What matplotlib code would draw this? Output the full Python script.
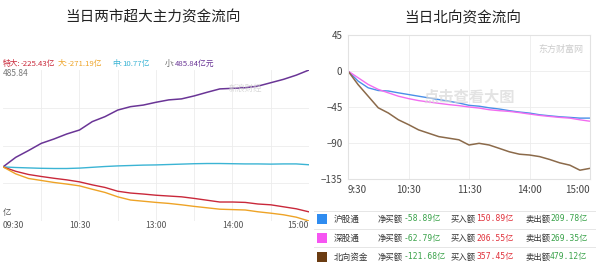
import matplotlib
matplotlib.use("Agg")
import matplotlib.pyplot as plt
from matplotlib.patches import Rectangle
from matplotlib.lines import Line2D

plt.rcParams['font.family'] = ['Noto Sans CJK SC', 'DejaVu Sans']

# ---------------- data ----------------
minutes = [0, 10, 20, 30, 40, 50, 60, 70, 80, 90, 100, 110, 120,
           130, 140, 150, 160, 170, 180, 190, 200, 210, 220, 230, 240]

# left chart: super-large / large / medium / small order flows (亿)
super_large = [0, -22, -38, -48, -57, -65, -75, -90, -103, -122, -131, -136, -142,
               -146, -150, -158, -167, -176, -176, -178, -186, -190, -200, -210, -225.43]
large = [0, -35, -58, -68, -78, -86, -95, -112, -128, -150, -166, -172, -178,
         -183, -190, -198, -205, -212, -214, -216, -225, -232, -240, -252, -271.19]
medium = [0, -3, -5, -7, -8, -8, -6, -2, 2, 5, 7, 9, 10,
          12, 14, 16, 17, 17, 16, 15, 15, 14, 15, 15, 10.77]
small = [0, 48, 82, 118, 140, 165, 185, 227, 252, 285, 302, 310, 324,
         336, 341, 356, 374, 391, 394, 397, 405, 422, 439, 460, 485.84]

left_legend = [("特大:", "-225.43亿"), ("大:", "-271.19亿"), ("中:", "10.77亿"), ("小:", "485.84亿元")]
left_xticks = [0, 60, 120, 180, 240]
left_xlabels = ["09:30", "10:30", "13:00", "14:00", "15:00"]

# right chart: northbound flows (亿)
hgt = [0, -12.6, -21, -24.4, -25, -27.3, -29.4, -31.5, -33.6, -35.7, -37.8, -40, -42.9,
       -44, -46, -47.5, -49.6, -51.3, -52.6, -54.7, -56, -57.2, -58, -58.9, -58.89]
sgt = [0, -8.4, -16.8, -23, -27.3, -31.5, -34.5, -37, -38.7, -40.4, -42, -43.3, -45,
       -46.3, -48.4, -49.6, -50.5, -52, -53.8, -55.5, -56.8, -58, -58.9, -61, -62.79]
north = [0, -17, -31.5, -46, -52.5, -61, -67, -73.6, -77.8, -82, -84, -86, -92.5,
         -90.4, -92.5, -96.7, -101, -104, -105, -107, -110.6, -114.8, -117.7, -124, -121.68]

right_yticks = [45, 0, -45, -90, -135]
right_xticks = [0, 60, 120, 180, 240]
right_xlabels = ["9:30", "10:30", "11:30", "14:00", "15:00"]

table_names = ["沪股通", "深股通", "北向资金"]
table_net = ["-58.89亿", "-62.79亿", "-121.68亿"]
table_buy = ["150.89亿", "206.55亿", "357.45亿"]
table_sell = ["209.78亿", "269.35亿", "479.12亿"]

# ---------------- figure ----------------
W, H = 596, 262
fig = plt.figure(figsize=(W / 100, H / 100), dpi=100)
fig.patch.set_facecolor("white")

def fx(px):
    return px / W

def fy(py):
    return 1 - py / H

c_red, c_org, c_cyan, c_pur = "#c9283a", "#eea326", "#3bb4d4", "#6a3596"

# ---- left chart ----
axL = fig.add_axes([fx(3), fy(221), fx(306), (221 - 70) / H])
axL.plot(minutes, small, color=c_pur, lw=1.1)
axL.plot(minutes, medium, color=c_cyan, lw=1.0)
axL.plot(minutes, super_large, color=c_red, lw=1.0)
axL.plot(minutes, large, color=c_org, lw=1.0)
ymin, ymax = min(large), max(small)
axL.set_xlim(0, 240)
axL.set_ylim(ymin, ymax)
for t in range(30, 240, 30):
    axL.axvline(t, color="#ececec", lw=0.6, zorder=0)
for k in range(1, 4):
    axL.axhline(ymin + (ymax - ymin) * k / 4, color="#ececec", lw=0.6, zorder=0)
for s in axL.spines.values():
    s.set_visible(False)
axL.set_xticks([])
axL.set_yticks([])

for t, lab in zip(left_xticks, left_xlabels):
    ha = "left" if t == 0 else ("right" if t == 240 else "center")
    xp = fx(3 + t / 240 * 306)
    fig.text(xp, fy(226), lab, ha=ha, va="center", fontsize=6.2, color="#555555")

fig.text(fx(3), fy(212), "亿", ha="left", va="center", fontsize=6, color="#555555")
fig.text(fx(3), fy(74), "485.84", ha="left", va="center", fontsize=6.0, color="#777777")

leg_x = [3, 58, 112, 165]
leg_c = [c_red, c_org, c_cyan, c_pur]
for (lab, val), x0, c in zip(left_legend, leg_x, leg_c):
    lc = "#666666" if lab == "小:" else c
    t1 = fig.text(fx(x0), fy(64), lab, ha="left", va="center", fontsize=5.6, color=lc)
    fig.canvas.draw()
    bb = t1.get_window_extent()
    fig.text(bb.x1 / W, fy(64), val, ha="left", va="center", fontsize=5.6, color=c)

fig.text(fx(153), fy(17), "当日两市超大主力资金流向", ha="center", va="center",
         fontsize=10.5, color="#222222")
fig.text(fx(245), fy(88), "新浪财经", ha="center", va="center", fontsize=6,
         color="#cfcfcf", alpha=0.8)

# ---- right chart ----
c_blue, c_mag, c_brn = "#4a8fe8", "#f26cf0", "#8b6a4a"
axR = fig.add_axes([fx(348), fy(179), fx(242), (179 - 35) / H])
axR.plot(minutes, hgt, color=c_blue, lw=1.0)
axR.plot(minutes, sgt, color=c_mag, lw=1.0)
axR.plot(minutes, north, color=c_brn, lw=1.1)
axR.set_xlim(0, 240)
axR.set_ylim(-135, 45)
axR.set_yticks(right_yticks)
axR.set_xticks(right_xticks)
axR.set_xticklabels(right_xlabels)
axR.tick_params(axis="both", length=0, labelsize=7, colors="#444444", pad=4)
xtl = axR.get_xticklabels()
xtl[0].set_ha("left")
xtl[-1].set_ha("right")
axR.grid(True, color="#ececec", lw=0.6)
axR.set_axisbelow(True)
for s in axR.spines.values():
    s.set_color("#e2e2e2")
    s.set_linewidth(0.8)
axR.text(0.5, 0.57, "点击查看大图", transform=axR.transAxes, ha="center", va="center",
         fontsize=11, color="#d8d8d8", alpha=0.7, fontweight="bold")
axR.text(0.88, 0.9, "东方财富网", transform=axR.transAxes, ha="center", va="center",
         fontsize=6.5, color="#cccccc")

fig.text(fx(463), fy(18), "当日北向资金流向", ha="center", va="center",
         fontsize=10.5, color="#222222")

# ---- table ----
sq_colors = ["#2f8cf0", "#f655f2", "#6b3c12"]
rows_y = [219, 238, 257]
c_green, c_tred = "#3aa24a", "#e0303a"
for yl in [211, 229, 247]:
    fig.add_artist(Line2D([fx(314), fx(596)], [fy(yl), fy(yl)], color="#e6e6e6", lw=0.7))
for i, yc in enumerate(rows_y):
    fig.add_artist(Rectangle((fx(317), fy(yc + 5)), fx(10), 10 / H,
                             facecolor=sq_colors[i], edgecolor="none"))
    fig.text(fx(334), fy(yc), table_names[i], ha="left", va="center", fontsize=6.2, color="#333333")
    for x0, lab, val, vc in [(378, "净买额", table_net[i], c_green),
                             (451, "买入额", table_buy[i], c_tred),
                             (525, "卖出额", table_sell[i], c_green)]:
        t1 = fig.text(fx(x0), fy(yc), lab, ha="left", va="center", fontsize=6.0, color="#333333")
        fig.canvas.draw()
        bb = t1.get_window_extent()
        fig.text(bb.x1 / W, fy(yc), val, ha="left", va="center", fontsize=5.8,
                 color=vc, family=["DejaVu Sans Mono", "Noto Sans CJK SC"])

fig.savefig("out.png", dpi=100, facecolor="white")
